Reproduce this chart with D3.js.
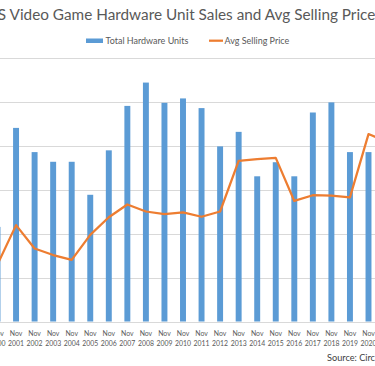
<!DOCTYPE html>
<html><head><meta charset="utf-8">
<script src="https://cdn.jsdelivr.net/npm/d3@7"></script>
<style>html,body{margin:0;padding:0;background:#fff;overflow:hidden}svg{display:block}</style>
</head><body>
<script>
const years = ["2000","2001","2002","2003","2004","2005","2006","2007","2008","2009","2010","2011","2012","2013","2014","2015","2016","2017","2018","2019","2020","2021"];
const units = [2.15,4.40,3.85,3.63,3.63,2.88,3.89,4.90,5.43,4.97,5.07,4.85,3.98,4.31,3.30,3.62,3.30,4.75,4.98,3.85,3.85,3.60];
const price = [130,219,166,151,140,197,237,266,250,244,248,238,250,365,369,372,274,287,286,282,426,409];
const unitTicks = [0,1,2,3,4,5,6];
const titleText = "US Video Game Hardware Unit Sales and Avg Selling Price";
const legendLabels = ["Total Hardware Units","Avg Selling Price"];
const sourceText = "Source: Circana";

const W = 375, H = 366;
const FONT = "Lato, 'Open Sans', sans-serif";
const svg = d3.select("body").append("svg").attr("width", W).attr("height", H);

function fitSize(txt, target) {
  const t = svg.append("text").attr("font-family", FONT).attr("font-size", 100).text(txt);
  const w = t.node().getComputedTextLength();
  t.remove();
  return 100 * target / w;
}

const x = d3.scaleBand().domain(years).range([-11.775, -11.775 + 18.55 * years.length])
  .paddingInner(0.68).paddingOuter(0.34);
const yU = d3.scaleLinear().domain([0, 6]).range([321.5, 57.5]);
const yP = d3.scaleLinear().domain([0, 600]).range([321.5, 57.5]);

// gridlines
svg.append("g").selectAll("line").data(unitTicks).join("line")
  .attr("x1", -20).attr("x2", W + 20)
  .attr("y1", d => Math.round(yU(d)) + 0.5).attr("y2", d => Math.round(yU(d)) + 0.5)
  .attr("stroke", "#d9d9d9").attr("stroke-width", 1);

// bars
svg.append("g").selectAll("rect").data(years).join("rect")
  .attr("x", d => x(d)).attr("width", x.bandwidth())
  .attr("y", (d, i) => yU(units[i])).attr("height", (d, i) => yU(0) - yU(units[i]))
  .attr("fill", "#5B9BD5");

// line
const line = d3.line().x((d, i) => x(years[i]) + x.bandwidth() / 2).y(d => yP(d));
svg.append("path").datum(price).attr("d", line).attr("fill", "none")
  .attr("stroke", "#ED7D31").attr("stroke-width", 2.25).attr("stroke-linejoin", "round").attr("stroke-linecap", "round");

// x axis labels
const catSize = fitSize("2001", 16);
const xl = svg.append("g").attr("font-family", FONT).attr("font-size", catSize).attr("fill", "#595959").attr("text-anchor", "middle");
xl.selectAll("text.m").data(years).join("text").attr("class", "m")
  .attr("x", d => x(d) + x.bandwidth() / 2).attr("y", 335.5).text("Nov");
xl.selectAll("text.y").data(years).join("text").attr("class", "y")
  .attr("x", d => x(d) + x.bandwidth() / 2).attr("y", 346).text(d => d);

// title
const tSize = fitSize(titleText, 389);
svg.append("text").attr("x", 181).attr("y", 20).attr("text-anchor", "middle")
  .attr("font-family", FONT).attr("font-size", tSize).attr("fill", "#595959").text(titleText);

// legend
const lSize = fitSize(legendLabels[0], 83);
const lg = svg.append("g").attr("font-family", FONT).attr("font-size", lSize).attr("fill", "#595959");
lg.append("rect").attr("x", 86).attr("y", 38.5).attr("width", 17).attr("height", 4.5).attr("fill", "#5B9BD5");
lg.append("text").attr("x", 105.5).attr("y", 44).text(legendLabels[0]);
lg.append("line").attr("x1", 209).attr("x2", 223).attr("y1", 40.7).attr("y2", 40.7).attr("stroke", "#ED7D31").attr("stroke-width", 2.25);
lg.append("text").attr("x", 224.5).attr("y", 44).text(legendLabels[1]);

// source
const sSize = fitSize("Source: Circ", 48);
svg.append("text").attr("x", 327).attr("y", 361).attr("font-family", FONT).attr("font-size", sSize)
  .attr("fill", "#404040").text(sourceText);
</script>
</body></html>
